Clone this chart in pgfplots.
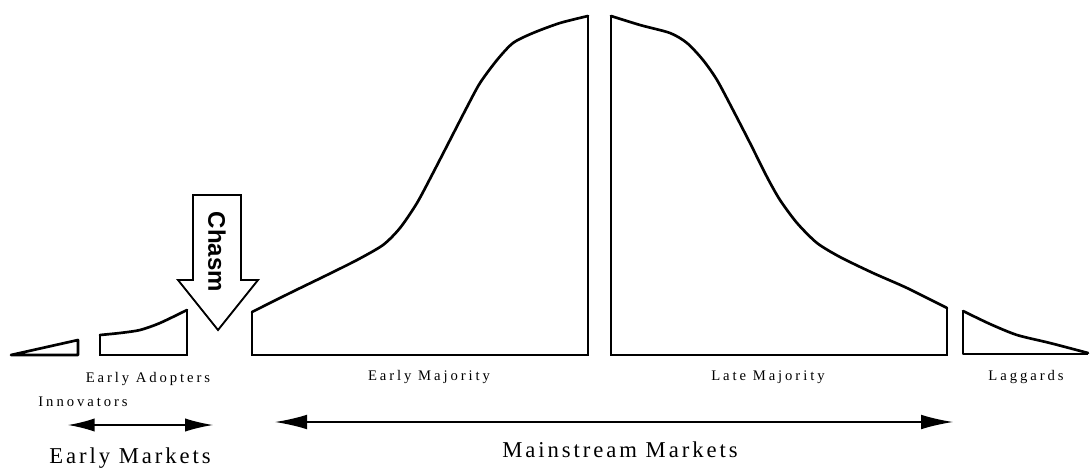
\documentclass[border=0pt]{standalone}
\usepackage{pgfplots}
\pgfplotsset{compat=1.18}
\usepackage{fontspec}
\setmainfont{Liberation Serif}
\newfontfamily\lblfont[LetterSpace=20]{Liberation Serif}
\newfontfamily\bigfont[LetterSpace=13]{Liberation Serif}
\newfontfamily\chasmfont{Liberation Sans}
\usetikzlibrary{arrows.meta}
\begin{document}
\begin{tikzpicture}
\begin{axis}[
  width=818.25pt, height=356.25pt, scale only axis,
  xmin=0, xmax=1091, ymin=0, ymax=475, y dir=reverse,
  axis lines=none, ticks=none, clip=false,
  edge/.style={black, line width=2pt, line join=miter, line cap=rect},
  curve/.style={black, line width=2pt, smooth, tension=0.45, line cap=round},
]
\path (rel axis cs:0,0) rectangle (rel axis cs:1,1);
% Innovators
\addplot[black, line width=2pt, line join=round] coordinates {(11,355) (78,340) (78,355)} -- cycle;
% Early Adopters
\addplot[edge] coordinates {(187,310) (187,355) (100,355) (100,335)};
\addplot[curve] coordinates {(100,335) (120,333) (140,330) (160,323) (187,310)};
% Early Majority
\addplot[edge] coordinates {(588,16) (588,355) (252,355) (252,312)};
\addplot[curve] coordinates {(252,312) (290,293) (327,275) (357,260) (383,245) (400,228) (417,203)
 (433,173) (450,140) (467,107) (480,83) (497,60) (513,43) (533,33) (560,23) (588,16)};
% Late Majority
\addplot[edge] coordinates {(947,308) (947,355) (611,355) (611,16)};
\addplot[curve] coordinates {(611,16) (640,25) (670,33) (687,43) (703,60) (717,80) (733,110) (750,143)
 (767,177) (780,200) (797,223) (817,243) (840,257) (873,273) (907,288) (947,308)};
% Laggards
\addplot[black, line width=2pt, line join=round] coordinates {(1088,354) (963,354) (963,311)};
\addplot[curve] coordinates {(963,311) (990,324) (1017,335) (1050,343) (1088,353)};
% Chasm arrow
\addplot[black, line width=1.4pt, line join=miter, fill=white] coordinates {
 (193,195) (241,195) (241,280) (258,280) (218,330) (178,280) (193,280)} -- cycle;
\node[rotate=-90, font=\chasmfont\bfseries\fontsize{18}{20}\selectfont] at (axis cs:217,252) {Chasm};
% Market arrows
\addplot[black, line width=1.1pt, {Latex[length=20pt,width=10pt]}-{Latex[length=21pt,width=10pt]}] coordinates {(68,425) (213,425)};
\addplot[black, line width=1.1pt, {Latex[length=24pt,width=11pt]}-{Latex[length=24pt,width=11pt]}] coordinates {(275,422) (953,422)};
% Labels
\node[font=\lblfont\fontsize{11}{13}\selectfont] at (axis cs:148,379) {Early Adopters};
\node[font=\lblfont\fontsize{11}{13}\selectfont] at (axis cs:83,402) {Innovators};
\node[font=\lblfont\fontsize{11}{13}\selectfont] at (axis cs:429,377) {Early Majority};
\node[font=\lblfont\fontsize{11}{13}\selectfont] at (axis cs:768,377) {Late Majority};
\node[font=\lblfont\fontsize{11}{13}\selectfont] at (axis cs:1026,377) {Laggards};
\node[font=\bigfont\fontsize{17}{19}\selectfont] at (axis cs:620,450) {Mainstream Markets};
\node[font=\bigfont\fontsize{17}{19}\selectfont] at (axis cs:130,458) {Early Markets};
\end{axis}
\end{tikzpicture}
\end{document}
